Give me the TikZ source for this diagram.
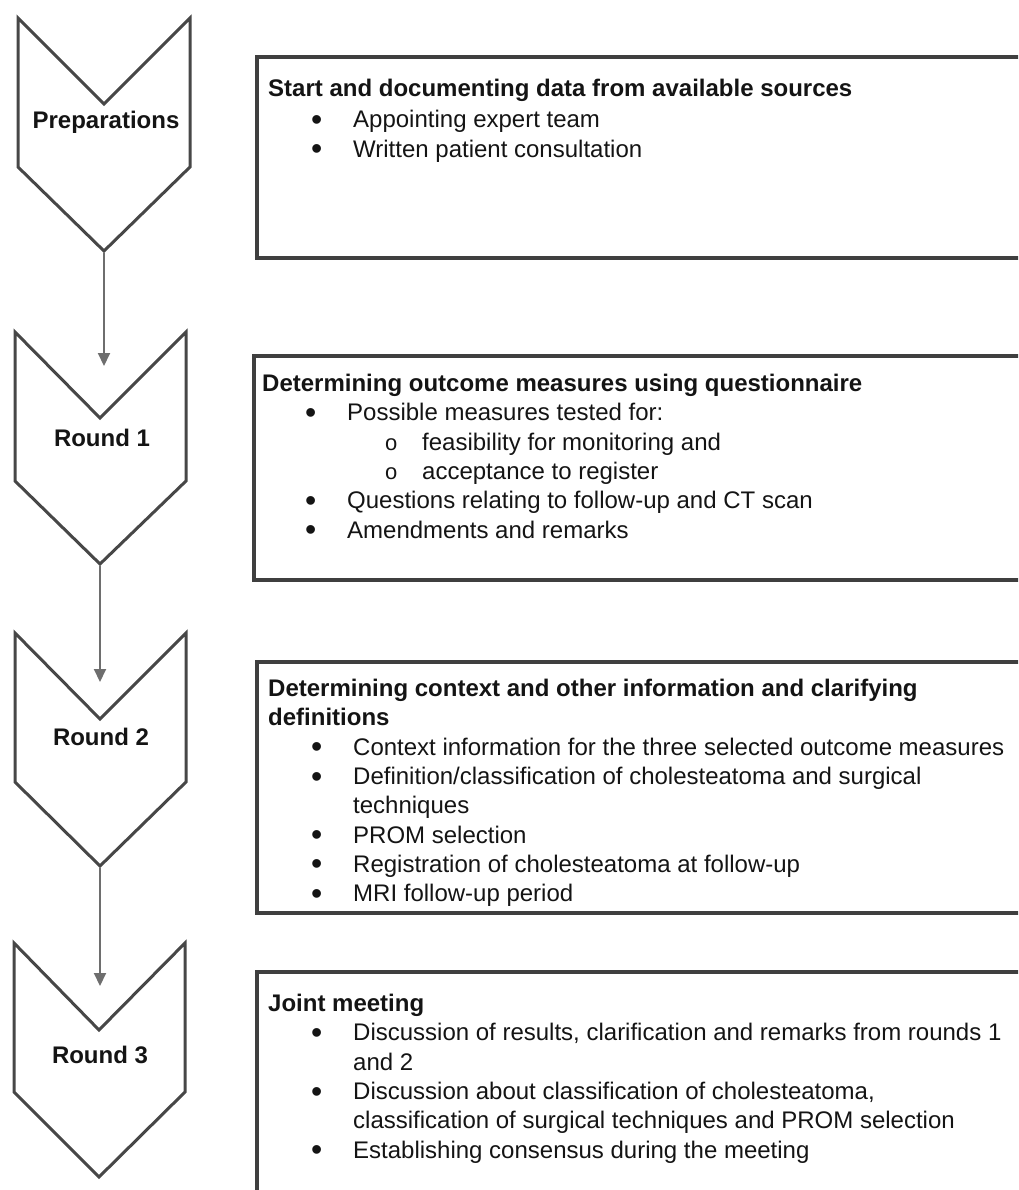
\documentclass[tikz,border=0pt]{standalone}
\usepackage{fontspec}
\setmainfont{Liberation Sans}
\usetikzlibrary{arrows.meta}
\usetikzlibrary{positioning}

\definecolor{chevgray}{HTML}{474747}
\definecolor{boxgray}{HTML}{3F3F3F}
\definecolor{flowgray}{HTML}{6E6E6E}
\definecolor{inkblack}{HTML}{141414}

% bullet lines inside the boxes
\newcommand{\dotmark}{\raisebox{-2.5pt}{\fontsize{32}{29}\selectfont\textbullet}}
\newcommand{\itm}[1]{\hspace*{43pt}\makebox[42pt][l]{\dotmark}#1}
\newcommand{\subitm}[1]{\hspace*{123pt}\makebox[37pt][l]{\fontsize{22}{29}\selectfont o}#1}
\newcommand{\cont}[1]{\hspace*{85pt}#1}

\begin{document}
\begin{tikzpicture}[x=1pt, y=-1pt,
    chev/.style={draw=chevgray, line width=3pt, line join=miter},
    stagebox/.style={draw=boxgray, line width=3.5pt},
    stagelabel/.style={text=inkblack, inner sep=0pt, font=\fontsize{24}{29}\selectfont\bfseries},
    boxtext/.style={text=inkblack, anchor=north west, inner sep=0pt, align=left,
      font=\fontsize{24}{29.3}\selectfont},
    flow/.style={draw=flowgray, line width=2pt, -{Triangle[length=13pt,width=12pt]}}]
    \useasboundingbox (0,0) rectangle (1018,1190);
    \clip (0,0) rectangle (1018,1190);

    % Chevrons
    \draw[chev] (18,18) -- (104,104) -- (190,18) -- (190,167) -- (104,251) -- (18,167) -- cycle;
    \draw[chev] (15,332) -- (100,418) -- (186,332) -- (186,481) -- (100,564) -- (15,481) -- cycle;
    \draw[chev] (15,633) -- (100,719) -- (186,633) -- (186,782) -- (100,866) -- (15,782) -- cycle;
    \draw[chev] (14,943) -- (99,1030) -- (185,943) -- (185,1092) -- (99,1177) -- (14,1092) -- cycle;

    \coordinate (preptip) at (104,253);
    \coordinate (r1tip) at (100,566);
    \coordinate (r2tip) at (100,868);
    \coordinate (r1in) at (104,366);
    \coordinate (r2in) at (100,682);
    \coordinate (r3in) at (100,986);

    \node[stagelabel] (prep) at (106,122) {Preparations};
    \node[stagelabel] (r1) at (102,438) {Round 1};
    \node[stagelabel] (r2) at (101,737) {Round 2};
    \node[stagelabel] (r3) at (100,1055) {Round 3};

    % Connectors
    \draw[flow] (preptip) -- (r1in);
    \draw[flow] (r1tip) -- (r2in);
    \draw[flow] (r2tip) -- (r3in);

    % Boxes
    \draw[stagebox] (257,57) rectangle (1040,258);
    \draw[stagebox] (254,356) rectangle (1040,580);
    \draw[stagebox] (257,662) rectangle (1040,913);
    \draw[stagebox] (257,972) rectangle (1040,1210);

    \node[boxtext] (preptext) at (268,79) {%
      \textbf{Start and documenting data from available sources}\\[2pt]
      \itm{Appointing expert team}\\
      \itm{Written patient consultation}};

    \node[boxtext] (r1text) at (262,374) {%
      \textbf{Determining outcome measures using questionnaire}\\
      \itm{Possible measures tested for:}\\
      \subitm{feasibility for monitoring and}\\
      \subitm{acceptance to register}\\
      \itm{Questions relating to follow-up and CT scan}\\
      \itm{Amendments and remarks}};

    \node[boxtext] (r2text) at (268,679) {%
      \textbf{Determining context and other information and clarifying}\\
      \textbf{definitions}\\
      \itm{Context information for the three selected outcome measures}\\
      \itm{Definition/classification of cholesteatoma and surgical}\\
      \cont{techniques}\\
      \itm{PROM selection}\\
      \itm{Registration of cholesteatoma at follow-up}\\
      \itm{MRI follow-up period}};

    \node[boxtext] (r3text) at (268,994) {%
      \textbf{Joint meeting}\\
      \itm{Discussion of results, clarification and remarks from rounds 1}\\
      \cont{and 2}\\
      \itm{Discussion about classification of cholesteatoma,}\\
      \cont{classification of surgical techniques and PROM selection}\\
      \itm{Establishing consensus during the meeting}};
  \end{tikzpicture}
\end{document}
